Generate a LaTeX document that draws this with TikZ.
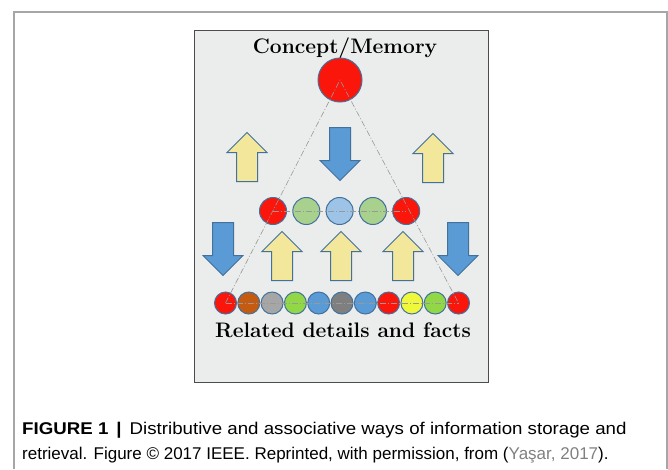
\documentclass[tikz,border=0pt]{standalone}
\usepackage{fontspec}
\newfontfamily\capfont{Liberation Sans}[FakeStretch=1.1]
\newfontfamily\capfontnarrow{Liberation Sans}
\usetikzlibrary{positioning,shapes.arrows}
\definecolor{cborder}{RGB}{65,113,156}
\definecolor{cred}{RGB}{250,22,10}
\definecolor{cbrown}{RGB}{197,90,17}
\definecolor{cgray}{RGB}{166,166,166}
\definecolor{clime}{RGB}{146,215,70}
\definecolor{cblue}{RGB}{91,155,213}
\definecolor{cdark}{RGB}{127,127,127}
\definecolor{cyellow}{RGB}{240,248,60}
\definecolor{cgreen}{RGB}{169,209,142}
\definecolor{clight}{RGB}{157,195,230}
\definecolor{cup}{RGB}{243,231,155}
\definecolor{cpanel}{RGB}{235,236,236}
\tikzset{
	concept/.style={circle, draw=cborder, line width=1pt, minimum size=44pt, inner sep=0pt}, % the big circle on top
	mem/.style={circle, draw=cborder, line width=1pt, minimum size=27pt, inner sep=0pt}, % the middle row
	detail/.style={circle, draw=cborder, line width=1pt, minimum size=22pt, inner sep=0pt}, % the bottom row
	blockarrow/.style={single arrow, draw=cborder, line width=1pt, inner sep=10pt, single arrow head extend=9.5pt, anchor=tail},
	uparrow/.style={blockarrow, fill=cup, minimum height=49pt, rotate=90}, % yellow, pointing up
	downarrow/.style={blockarrow, fill=cblue, minimum height=53pt, rotate=-90}, % blue, pointing down
	link/.style={draw=gray!80, line width=0.6pt, dash pattern=on 6pt off 2pt on 1pt off 2pt},
	heading/.style={font=\bfseries\fontsize{21}{24}\selectfont, anchor=base},
	captext/.style={anchor=base west, inner sep=0pt, font=\capfont\fontsize{17}{20}\selectfont},
}
\begin{document}
\begin{tikzpicture}[x=1pt,y=-1pt]
	\useasboundingbox (0,0) rectangle (668,469);
	% frame and panel
	\draw[gray!70, line width=1.2pt] (14,469) -- (14,12) -- (667,12) -- (667,469);
	\draw[fill=cpanel, draw=black!70, line width=0.8pt] (194,30) rectangle (488,382);
	
	\node[heading] (title) at (345,53) {Concept/Memory};
	\node[concept, fill=cred] (c) at (340,80) {};
	
	% middle row
	\node[mem, fill=cred] (m1) at (273,211) {};
	\foreach \col [count=\i from 2] in {cgreen,clight,cgreen,cred} {
		\pgfmathtruncatemacro\j{\i-1}
		\node[mem, fill=\col, right=5.3pt of m\j] (m\i) {};
	}
	
	% bottom row
	\node[detail, fill=cred] (d1) at (225.5,303) {};
	\foreach \col [count=\i from 2] in {cbrown,cgray,clime,cblue,cdark,cblue,cred,cyellow,clime,cred} {
		\pgfmathtruncatemacro\j{\i-1}
		\node[detail, fill=\col, right=0.3pt of d\j] (d\i) {};
	}
	\node[heading] (facts) at (343,337) {Related details and facts};
	
	% dash-dot links
	\draw[link] (d1.center) -- (c.center) -- (d11.center);
	\draw[link] (m1.center) -- (m5.center);
	\draw[link] (d1.center) -- (d11.center);
	
	% arrows
	\node[uparrow] (u1) at (247,182) {};
	\node[uparrow] (u2) at (433,183) {};
	\node[downarrow] (w1) at (340,127) {};
	\node[downarrow] (w2) at (223,222) {};
	\node[downarrow] (w3) at (458,222) {};
	\node[uparrow] (u3) at (282,281) {};
	\node[uparrow] (u4) at (341,281) {};
	\node[uparrow] (u5) at (403,281) {};
	
	% caption
	\node[captext] (cap1) at (22,434)
		{\textbf{FIGURE 1 \,|\,} Distributive and associative ways of information storage and};
	\node[captext, font=\capfontnarrow\fontsize{17}{20}\selectfont] (cap2) at (22,459)
		{retrieval. Figure \textcopyright{} 2017 IEEE. Reprinted, with permission, from ({\color{gray}Yaşar, 2017}).};
\end{tikzpicture}
\end{document}
